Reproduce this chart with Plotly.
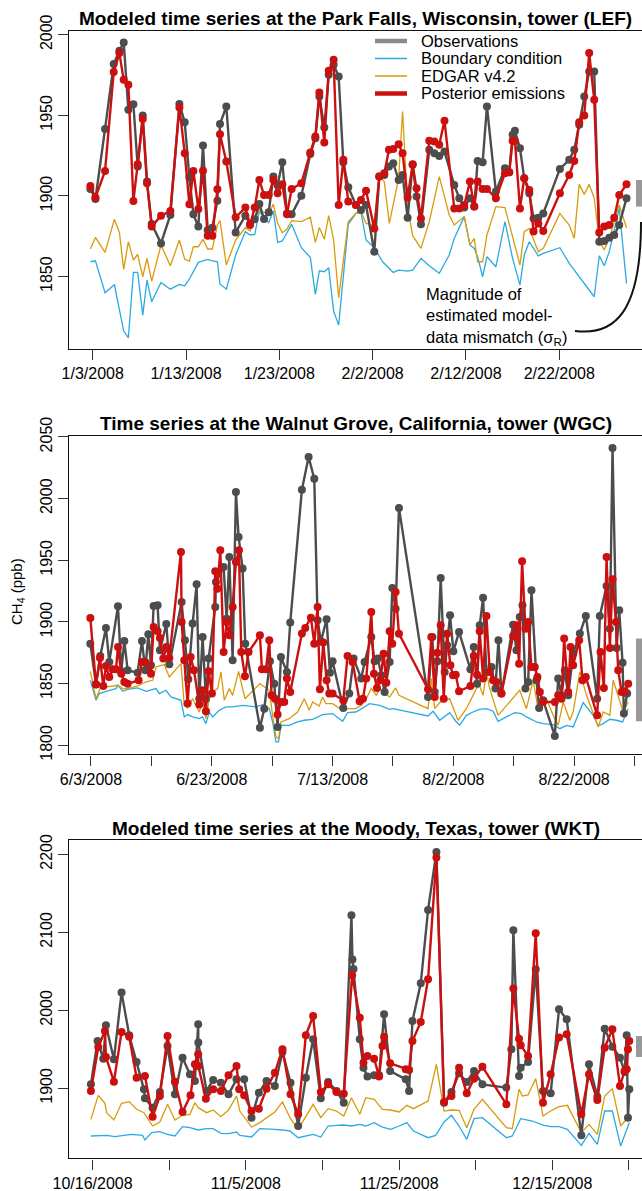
import pandas as pd
import plotly.graph_objects as go

W, H = 642, 1191

# ---------------- DATA (day offsets from the first labelled date, CH4 ppb) -------------
# Panel 1: LEF, days since 2008-01-03
lef_t = [-0.25,0.29,1.32,2.25,2.86,3.32,3.82,4.36,4.82,5.36,5.82,6.32,7.32,8.32,9.29,9.86,10.36,10.79,11.32,11.82,
         12.32,12.82,13.36,13.64,14.32,15.32,16.36,16.86,17.36,17.86,18.36,18.86,19.36,19.82,20.32,20.82,21.32,22.36,
         23.32,23.86,24.29,24.82,25.29,25.82,26.36,26.86,27.39,28.21,
         28.75,29.29,30.18,30.71,31.25,31.75,32.21,32.79,33.21,33.75,34.29,34.71,35.18,36.07,36.61,37.14,37.7,38.75,
         39.29,39.82,40.43,40.89,41.25,41.79,42.25,43.21,44.18,44.64,45.0,45.25,45.79,46.25,46.79,47.25,47.75,48.29,
         50.07,51.07,51.61,52.14,52.68,53.21,53.75,54.29,54.82,55.36,55.89,56.43,57.21]
lef_obs = [1904.3,1898.1,1941.6,1981.8,1990.0,1995.2,1953.4,1956.9,1918.2,1949.9,1908.9,1882.6,1870.6,1888.2,1957.1,
           1945.7,1911.6,1888.6,1881.0,1931.3,1878.9,1880.3,1897.1,1944.7,1955.5,1877.4,1887.8,1882.6,1885.5,1895.0,
           1885.7,1889.9,1912.0,1906.8,1920.9,1889.2,1888.6,1900.2,1926.1,1935.8,1961.7,1942.4,1975.1,1981.4,1974.1,
           1920.9,1905.4,1894.4,
           1891.3,1894.4,1865.4,1912.0,1913.0,1918.2,1920.3,1909.9,1913.0,1886.5,1919.3,1899.6,1882.4,1928.6,1926.5,
           1924.8,1927.5,1906.8,1898.6,1892.8,1898.6,1893.4,1921.7,1920.9,1955.5,1902.7,1917.2,1914.7,1937.9,1940.4,
           1929.6,1911.0,1901.7,1886.1,1886.5,1889.2,1916.8,1922.4,1928.6,1944.1,1961.7,1977.2,1977.2,1871.6,1872.1,
           1874.1,1875.8,1882.0,1898.6]
lef_post = [1906.2,1899.0,1915.5,1976.8,1988.6,1972.0,1968.9,1896.9,1919.7,1947.8,1907.9,1881.0,1887.8,1890.7,1954.9,
            1926.5,1894.8,1915.5,1891.9,1915.7,1875.4,1875.4,1904.1,1938.3,1921.3,1886.8,1892.8,1882.0,1892.8,1909.9,
            1900.6,1900.6,1909.9,1901.7,1907.2,1888.6,1904.3,1907.9,1926.9,1936.8,1964.2,1933.1,1977.6,1984.5,1894.4,
            1922.4,1896.5,1894.4,
            1897.5,1903.3,1879.9,1912.0,1914.1,1928.6,1929.2,1932.1,1926.5,1899.0,1919.7,1904.8,1886.1,1934.2,1933.7,
            1931.7,1946.6,1892.3,1892.3,1894.4,1908.9,1893.4,1908.9,1904.3,1904.3,1898.6,1914.1,1914.7,1934.2,1934.0,
            1892.3,1911.0,1903.7,1877.9,1883.0,1878.3,1901.7,1913.0,1921.7,1945.7,1949.9,1988.6,1959.6,1877.4,1881.0,
            1882.0,1886.5,1900.6,1907.2]
lef_bc_t = [-0.25,0.29,1.32,2.32,3.32,3.82,4.36,4.82,5.36,5.82,6.32,7.32,8.32,9.29,9.86,10.36,11.32,12.32,12.82,13.36,
            13.64,14.32,15.32,16.36,16.86,17.36,17.86,18.36,18.86,19.36,19.82,20.32,21.32,22.36,23.32,23.86,24.29,24.82,
            25.29,25.82,26.36,27.39,28.21,
            28.75,29.29,30.18,31.07,32.21,32.79,33.75,34.29,35.18,36.07,37.14,38.21,38.75,39.82,40.43,40.89,41.25,41.79,
            42.25,43.21,44.18,45.0,45.79,46.25,46.79,47.75,48.29,50.07,51.07,52.14,53.21,53.75,54.29,54.82,55.36,56.43,
            57.21]
lef_bc = [1859.2,1859.8,1840.0,1845.1,1816.2,1812.0,1852.6,1852.6,1826.1,1847.8,1834.4,1846.4,1842.2,1845.1,1844.3,
          1848.5,1858.8,1860.7,1859.8,1859.2,1845.4,1842.2,1863.4,1877.9,1875.8,1876.2,1890.3,1887.2,1883.6,1890.7,
          1871.2,1872.1,1882.4,1867.9,1861.9,1838.9,1853.6,1853.0,1855.5,1828.6,1819.9,1882.4,1889.2,
          1889.9,1872.7,1867.9,1859.2,1852.6,1854.0,1853.4,1854.0,1861.3,1856.7,1852.0,1863.4,1873.7,1887.2,1869.6,
          1867.5,1862.3,1849.9,1862.3,1856.1,1884.1,1861.3,1844.7,1863.4,1871.6,1862.9,1864.4,1867.9,1858.2,1849.9,
          1841.6,1837.5,1862.9,1856.7,1865.4,1892.3,1845.8]
lef_ed_t = [-0.25,0.29,1.32,2.32,2.86,3.32,3.82,4.36,4.82,5.36,5.82,6.32,7.32,8.32,9.29,9.86,10.36,10.79,11.32,11.82,
            12.32,12.82,13.36,13.64,14.32,15.32,16.36,16.86,17.36,17.86,18.36,18.86,19.36,19.82,20.32,20.82,21.32,22.36,
            23.32,23.86,24.29,24.82,25.29,25.82,26.36,27.39,28.21,
            28.75,29.29,30.18,30.71,31.25,31.79,32.79,33.21,33.75,34.29,35.18,36.07,37.14,38.21,38.75,39.82,40.43,40.89,
            41.25,41.79,42.25,43.21,44.18,45.0,45.79,46.25,46.79,47.75,48.29,50.07,51.07,51.61,52.14,52.68,53.21,53.75,
            54.29,54.82,55.36,56.43,57.21]
lef_ed = [1867.1,1874.3,1865.0,1885.5,1877.4,1854.5,1871.6,1860.3,1863.8,1849.9,1861.3,1847.2,1869.6,1856.7,1872.7,
          1860.7,1859.6,1868.5,1868.5,1873.1,1867.1,1867.1,1882.0,1884.7,1857.2,1872.7,1880.3,1878.3,1885.5,1891.3,
          1889.9,1888.2,1895.0,1883.0,1877.2,1879.5,1884.7,1884.1,1886.8,1871.2,1880.5,1873.1,1887.8,1872.7,1836.9,
          1884.1,1889.2,
          1890.3,1883.0,1882.0,1912.0,1908.9,1883.0,1911.0,1952.4,1893.4,1875.4,1867.5,1884.1,1912.0,1888.2,1882.0,
          1887.2,1869.6,1873.7,1859.2,1859.2,1875.8,1893.4,1892.8,1874.7,1857.2,1877.9,1879.9,1865.4,1867.5,1889.2,
          1882.0,1873.7,1907.2,1901.0,1907.2,1898.6,1872.7,1866.5,1873.7,1894.4,1880.3]

# Panel 2: WGC, days since 2008-06-03
wgc_obs_t = [-0.11,0.83,1.54,2.48,3.03,4.47,5.02,5.52,6.07,7.72,8.44,8.99,9.49,9.93,10.37,11.03,11.42,12.47,12.97,
             15.01,15.56,16.11,16.83,17.49,17.93,18.48,19.03,19.48,20.58,20.69,21.96,22.46,22.9,23.45,24.0,24.44,25.1,
             25.54,27.97,28.69,29.63,30.34,30.9,31.45,32.44,32.99,34.92,36.03,36.97,37.52,38.07,39.01,39.56,40.0,41.77,
             42.76,43.48,
             44.75,45.3,46.41,46.96,47.51,48.07,48.62,49.45,49.89,50.44,50.99,55.8,56.52,56.91,57.35,57.9,58.56,58.95,
             59.45,60.0,60.94,62.82,63.37,63.92,64.36,64.92,65.47,66.3,66.96,67.46,67.96,69.89,70.44,70.99,71.44,71.93,
             72.38,72.93,73.76,74.2,74.86,76.8,77.35,77.9,78.45,79.01,79.83,80.94,81.93,83.81,84.25,85.36,85.91,86.35,
             87.02,87.46,88.01,88.23,88.78]
wgc_obs = [1882.4,1849.2,1872.4,1895.1,1867.6,1912.7,1860.0,1884.6,1860.8,1858.9,1884.6,1860.8,1890.0,1864.9,1913.0,
           1913.5,1877.0,1898.4,1865.7,1916.2,1885.1,1853.5,1898.7,1930.6,1837.8,1887.8,1837.8,1870.3,1912.2,1932.4,
           1944.6,1902.7,1952.7,1868.9,2005.4,1968.9,1943.3,1882.4,1814.3,1829.7,1868.1,1850.0,1814.9,1871.6,1859.5,
           1899.5,2007.3,2033.8,2016.2,1901.4,1884.3,1902.2,1858.9,1868.1,1830.3,1841.9,1870.3,
           1854.1,1867.6,1887.8,1868.1,1870.3,1856.8,1843.2,1867.6,1927.6,1910.8,1992.5,1839.2,1887.8,1843.2,1868.1,
           1935.7,1859.5,1881.1,1905.4,1876.2,1891.9,1861.6,1879.7,1850.0,1897.3,1919.7,1859.5,1863.5,1846.0,1885.1,
           1841.9,1897.8,1877.0,1904.1,1913.5,1846.0,1851.4,1925.7,1852.7,1830.3,1836.5,1807.6,1854.1,1840.5,1860.8,
           1840.5,1874.3,1890.6,1904.9,1837.8,1904.9,1929.2,1894.6,2041.1,1878.9,1909.5,1867.0,1825.7,1841.9]
wgc_post_t = [-0.11,0.83,1.49,2.04,2.48,3.03,3.59,4.14,4.47,5.02,5.52,6.07,7.89,8.44,8.99,9.93,10.37,11.03,11.42,
              11.97,12.47,12.97,14.9,15.01,15.45,16.0,16.5,17.05,17.93,18.48,19.03,19.48,20.03,20.58,20.91,21.41,21.96,
              22.46,22.9,23.45,24.0,24.5,24.88,25.49,26.1,27.97,28.3,28.97,29.52,29.9,30.46,30.9,31.45,32.0,32.44,32.99,
              34.92,35.48,36.41,36.97,37.52,37.9,38.46,39.01,39.45,40.0,41.77,42.48,43.31,
              44.48,45.03,45.58,46.41,46.85,47.35,47.9,48.45,48.9,49.45,49.89,50.44,50.99,55.8,56.35,56.91,57.35,57.9,
              58.4,58.95,59.5,59.94,60.39,60.94,62.82,63.37,63.92,64.36,64.92,65.47,66.02,66.57,67.13,67.96,69.89,70.44,
              70.88,71.38,71.93,72.38,72.93,73.48,73.92,74.31,74.86,76.8,77.35,77.9,78.34,79.01,79.39,79.83,80.83,81.38,
              81.93,83.81,84.36,84.92,85.36,85.91,86.35,86.91,87.29,87.85,88.4,88.95]
wgc_post = [1903.3,1849.5,1870.8,1848.1,1864.3,1855.4,1861.6,1861.6,1879.7,1858.1,1851.4,1850.0,1852.7,1867.6,1867.6,
            1858.1,1896.0,1892.4,1887.0,1870.3,1879.7,1870.8,1956.8,1900.0,1868.9,1833.8,1871.6,1860.8,1833.0,1844.6,
            1827.6,1860.0,1841.9,1941.1,1927.0,1958.1,1875.7,1900.0,1889.2,1912.2,1948.7,1958.1,1875.7,1856.0,1875.7,
            1889.2,1861.6,1861.6,1885.1,1840.5,1837.8,1824.9,1835.1,1835.1,1854.1,1843.2,1890.6,1895.1,1903.5,1882.4,
            1912.2,1845.4,1883.3,1852.7,1841.9,1841.9,1836.5,1872.4,1867.6,
            1835.7,1837.8,1854.1,1908.1,1858.1,1846.5,1852.7,1874.3,1850.8,1892.4,1882.4,1924.3,1890.5,1845.4,1887.8,
            1839.2,1875.1,1897.3,1837.8,1890.5,1864.9,1856.8,1857.3,1843.8,1848.1,1872.4,1857.3,1892.4,1854.1,1904.9,
            1859.5,1852.7,1851.4,1841.9,1888.7,1897.3,1866.2,1949.2,1894.6,1900.0,1863.5,1863.5,1855.4,1843.2,1835.1,
            1835.1,1840.5,1837.8,1886.5,1843.2,1879.7,1864.9,1885.1,1852.7,1855.4,1824.3,1875.7,1846.5,1952.7,1878.9,
            1934.6,1900.0,1860.8,1843.2,1843.8,1850.0]
wgc_bc_t = [-0.11,0.83,1.38,2.48,4.14,4.47,5.24,6.07,7.72,9.1,10.76,11.31,12.41,13.24,14.9,15.45,16.0,16.83,17.93,
            18.48,19.03,19.59,20.14,21.24,22.34,23.45,25.1,27.31,28.41,29.52,30.07,30.62,31.06,31.45,32.83,34.21,35.31,
            36.69,38.34,40.0,41.66,42.48,43.86,
            44.75,46.13,47.79,49.45,50.0,55.8,56.63,57.73,59.39,60.5,61.05,62.15,63.26,64.36,65.47,66.57,67.4,70.17,
            71.27,72.1,73.76,74.86,76.52,77.62,78.73,79.83,81.49,83.15,83.98,84.81,85.91,87.02,88.01,88.95]
wgc_bc = [1852.7,1836.5,1841.9,1843.8,1846.0,1848.7,1843.8,1845.4,1846.5,1843.8,1846.0,1841.9,1844.6,1839.2,1836.5,
          1823.0,1824.9,1823.0,1821.6,1823.0,1817.6,1827.0,1823.0,1828.4,1831.1,1831.1,1832.4,1831.1,1833.0,1829.7,
          1818.9,1802.7,1802.7,1816.2,1816.2,1818.9,1820.3,1821.1,1824.9,1825.7,1819.5,1826.5,1827.0,
          1829.7,1833.8,1832.4,1829.2,1829.7,1823.8,1827.6,1820.3,1826.5,1818.9,1816.2,1824.3,1827.0,1829.2,1829.7,
          1827.6,1819.5,1826.5,1825.7,1823.0,1818.9,1817.6,1816.8,1813.5,1816.2,1814.9,1834.6,1824.3,1815.7,1817.6,
          1821.1,1820.3,1818.9,1829.7]
wgc_ed_t = [-0.11,0.83,1.54,2.48,4.47,5.24,6.07,7.72,9.1,10.21,10.76,12.14,12.97,14.9,15.45,16.0,16.83,17.93,18.48,
            19.03,19.59,20.14,20.97,21.52,22.07,22.9,23.45,24.44,25.49,27.97,29.52,30.07,30.62,31.06,31.45,32.83,34.21,
            35.31,36.14,36.69,37.79,38.34,38.9,40.0,41.66,42.48,43.86,
            44.75,45.58,46.41,47.24,47.79,48.62,49.45,50.44,50.99,55.8,56.35,56.91,57.73,59.39,60.77,62.15,63.26,63.81,
            64.36,64.92,65.47,66.02,67.4,69.89,70.99,72.1,73.2,74.03,75.41,76.52,77.35,78.18,79.28,79.83,80.94,82.04,
            83.98,84.81,85.91,86.46,87.29,88.12,88.95]
wgc_ed = [1860.0,1837.8,1846.5,1847.3,1848.7,1846.0,1846.0,1848.1,1851.4,1852.7,1863.5,1865.4,1855.4,1866.2,1832.4,
          1830.3,1837.8,1827.0,1835.1,1821.6,1837.8,1843.2,1846.0,1859.5,1836.5,1846.0,1840.5,1860.0,1837.8,1850.0,
          1844.6,1824.3,1806.8,1805.4,1818.9,1821.6,1827.0,1837.8,1828.4,1835.1,1831.9,1839.2,1833.8,1833.8,1828.4,
          1829.7,1829.7,
          1832.4,1837.8,1846.0,1840.5,1846.0,1841.9,1839.2,1846.5,1840.5,1829.7,1854.1,1829.7,1834.6,1837.8,1820.3,
          1829.7,1840.5,1846.0,1848.1,1840.5,1859.5,1846.0,1824.3,1837.8,1844.6,1829.7,1852.7,1829.7,1837.8,1824.3,
          1816.2,1835.1,1820.3,1827.0,1859.5,1840.5,1814.9,1827.0,1824.3,1852.7,1840.5,1827.0,1835.1]

# Panel 3: WKT, days since 2008-10-16
wkt_obs_t = [-0.22,0.65,1.39,1.74,2.78,3.78,4.78,5.74,6.7,6.83,7.83,8.78,9.78,10.74,11.74,12.7,13.35,13.78,13.8,14.87,
             15.74,16.74,17.74,18.78,19.78,20.74,21.7,22.7,23.78,24.78,25.83,26.83,27.83,28.78,29.78,30.74,31.83,32.78,
             33.78,
             33.91,34.05,34.87,35.35,35.87,36.74,37.39,38.04,38.83,40.87,41.3,41.74,42.83,43.78,44.87,45.87,46.83,47.83,
             48.83,49.78,50.87,54.0,54.65,54.91,55.65,55.87,56.83,57.83,58.78,59.78,60.87,61.87,63.78,64.78,65.87,66.83,
             67.83,68.83,69.43,69.7,69.87,70.04]
wkt_obs = [1905.1,1960.7,1938.0,1980.8,1937.2,2022.7,1968.0,1933.8,1898.7,1887.2,1875.2,1895.3,1954.3,1892.3,1939.3,
           1918.0,1909.4,1982.1,1958.6,1896.6,1910.7,1907.3,1892.3,1911.5,1911.5,1862.4,1894.4,1909.4,1903.0,1946.6,
           1907.3,1851.7,1913.7,1962.8,1887.2,1908.1,1896.6,1881.6,2121.8,
           2065.0,2053.0,1962.8,1926.5,1915.0,1916.7,1916.7,1994.9,1922.2,1911.5,1896.6,1986.3,2034.6,2128.7,2203.0,
           1881.6,1895.3,1919.2,1908.1,1922.2,1905.1,1900.9,1950.0,2102.6,1915.8,1926.5,1933.8,2052.6,1896.6,1893.6,
           2001.3,1988.5,1839.7,1930.8,1889.3,1976.5,1953.4,1939.3,1920.9,1968.0,1862.4,1898.7]
wkt_post_t = [-0.22,0.74,1.61,1.74,2.78,3.78,4.78,5.74,6.83,7.83,8.78,9.78,10.74,11.74,12.78,13.35,13.78,13.8,14.78,
              15.74,16.74,17.74,18.78,19.13,19.78,20.74,21.7,22.7,23.78,24.78,25.83,26.83,27.83,28.78,29.78,30.74,31.83,
              32.78,33.87,
              34.87,35.35,35.87,36.74,37.39,37.83,38.04,38.83,40.87,41.3,41.74,42.83,43.78,44.87,45.87,46.83,47.83,48.83,
              49.78,50.87,54.0,54.91,55.65,55.87,56.83,57.83,58.78,59.78,60.87,61.87,63.78,64.78,65.87,66.83,67.83,68.83,
              69.43,69.7,69.87,70.04]
wkt_post = [1896.6,1953.0,1973.5,1940.2,1908.5,1972.2,1966.2,1913.7,1915.8,1863.7,1890.2,1967.1,1908.5,1869.7,1891.0,
            1930.8,1943.6,1928.6,1886.7,1898.7,1896.6,1916.7,1928.6,1898.7,1891.0,1870.9,1873.9,1899.6,1920.1,1950.0,
            1892.3,1866.7,1968.0,1992.7,1895.3,1905.1,1895.3,1893.2,2044.9,
            1990.6,1932.9,1941.5,1938.0,1915.0,1954.3,1966.2,1932.1,1924.4,1923.5,1960.7,1985.0,2039.8,2195.8,1882.5,
            1890.2,1926.5,1893.6,1912.4,1927.8,1879.5,2027.8,1963.7,1955.1,1941.5,2098.7,1881.6,1918.0,1965.0,1969.2,
            1866.7,1918.0,1885.0,1952.1,1975.6,1903.0,1922.2,1924.4,1950.0,1960.7]
wkt_bc_t = [-0.22,1.83,2.91,4.0,5.09,6.52,6.83,7.7,8.78,9.78,10.74,11.74,12.7,13.78,14.87,15.74,16.74,17.74,18.78,19.22,
            20.74,21.83,22.7,23.78,24.78,25.74,26.83,27.83,28.78,29.78,30.74,31.83,32.78,33.78,
            34.87,35.65,36.74,37.83,38.91,40.0,41.0,41.87,43.78,44.78,45.87,46.83,47.83,48.83,49.78,50.87,54.0,54.78,
            55.87,57.39,58.91,59.78,60.87,61.96,63.78,64.78,65.87,66.83,67.83,68.91,70.04]
wkt_bc = [1838.9,1839.7,1838.0,1839.7,1841.0,1839.7,1833.8,1843.2,1844.4,1841.0,1838.9,1850.9,1849.6,1846.6,1848.3,
          1848.3,1842.3,1841.9,1844.0,1839.7,1837.6,1848.3,1848.3,1847.4,1846.6,1845.3,1836.7,1838.9,1841.0,1837.6,
          1851.7,1852.6,1853.0,1851.7,
          1853.8,1851.7,1856.0,1850.4,1847.4,1851.7,1856.0,1845.3,1836.7,1839.7,1856.8,1865.4,1851.7,1834.6,1861.1,
          1862.4,1836.7,1838.9,1861.1,1858.1,1852.6,1850.9,1850.9,1847.4,1826.9,1842.3,1828.2,1870.9,1870.9,1826.1,
          1856.0]
wkt_ed_t = [-0.22,0.74,1.61,1.83,2.78,3.78,4.78,5.74,6.7,7.83,8.78,9.78,10.74,11.74,12.7,13.35,13.78,14.87,15.74,16.74,
            17.74,18.78,19.22,20.74,21.83,22.7,23.78,24.78,25.83,26.83,27.83,28.78,29.78,30.74,31.83,32.78,33.78,
            34.87,35.65,36.74,37.83,38.91,40.0,41.0,41.87,43.78,44.87,45.87,46.83,47.83,48.83,49.78,50.87,54.0,54.78,
            55.65,56.09,56.83,57.83,58.78,59.78,60.87,61.96,63.78,64.78,65.87,66.83,67.83,68.91,70.04]
wkt_ed = [1860.3,1891.0,1880.8,1868.8,1859.4,1880.8,1882.9,1873.1,1868.8,1851.7,1856.8,1879.5,1859.4,1865.4,1866.7,
          1881.6,1875.2,1868.8,1872.2,1863.7,1872.2,1890.2,1870.9,1850.4,1856.0,1862.4,1869.7,1882.5,1861.1,1847.4,
          1864.5,1879.5,1862.4,1873.9,1870.9,1864.5,1888.0,
          1866.7,1888.0,1885.9,1873.1,1872.2,1869.7,1878.2,1873.9,1883.8,1930.8,1870.9,1872.2,1871.8,1849.6,1873.1,
          1885.9,1849.6,1848.3,1898.7,1890.2,1891.5,1912.4,1864.5,1870.9,1876.5,1878.2,1843.2,1853.8,1841.0,1890.2,
          1899.6,1851.7,1864.5]

# model-data mismatch bars (ppb, low/high)
sigma_bars = [(1893.4, 1909.9), (1819.5, 1886.5), (1940.0, 1967.0)]

titles = ["Modeled time series at the Park Falls, Wisconsin, tower (LEF)",
          "Time series at the Walnut Grove, California, tower (WGC)",
          "Modeled time series at the Moody, Texas, tower (WKT)"]
legend_names = ["Observations", "Boundary condition", "EDGAR v4.2", "Posterior emissions"]

# ---------------- STYLE / LAYOUT ------------------------------------------------------
C_OBS, C_OBS_LEG = "#4d4d4d", "#8a8a8a"
C_BC, C_ED, C_POST = "#2aaae2", "#d99b0a", "#cc1010"
FONT = "Liberation Sans, Arial, Helvetica, sans-serif"
TFONT = "Liberation Sans, Arial, Helvetica, sans-serif"

def px(x):
    return x / W

def py(y):
    return 1 - y / H

X0 = 69.3
panels = [
    dict(base="2008-01-03", xr=(-2.51, 58.87), yr=(1805.1, 2002.3), top=31, bot=349,
         yt=[1850, 1900, 1950, 2000], lab_every=10, tcy=19,
         data=(lef_t, lef_obs, lef_t, lef_post, lef_bc_t, lef_bc, lef_ed_t, lef_ed)),
    dict(base="2008-06-03", xr=(-3.59, 91.23), yr=(1792.7, 2050.8), top=436, bot=754.3,
         yt=[1800, 1850, 1900, 1950, 2000, 2050], lab_every=20, tcy=424,
         data=(wgc_obs_t, wgc_obs, wgc_post_t, wgc_post, wgc_bc_t, wgc_bc, wgc_ed_t, wgc_ed)),
    dict(base="2008-10-16", xr=(-3.04, 71.7), yr=(1810.3, 2218.3), top=840, bot=1158.3,
         yt=[1900, 2000, 2100, 2200], lab_every=20, tcy=828,
         data=(wkt_obs_t, wkt_obs, wkt_post_t, wkt_post, wkt_bc_t, wkt_bc, wkt_ed_t, wkt_ed)),
]

def to_dt(base, days):
    b = pd.Timestamp(base)
    return [b + pd.Timedelta(days=float(d)) for d in days]

fig = go.Figure()
layout = dict(width=W, height=H, margin=dict(l=0, r=0, t=0, b=0, pad=0, autoexpand=False),
              paper_bgcolor="white", plot_bgcolor="white", showlegend=False,
              font=dict(family=FONT, size=16, color="black"))
shapes, annos = [], []
DAY_MS = 86400000

for i, p in enumerate(panels):
    n = "" if i == 0 else str(i + 1)
    xa, ya = "x" + n, "y" + n
    ot, ov, pt, pv, bt, bv, et, ev = p["data"]
    fig.add_trace(go.Scatter(x=to_dt(p["base"], bt), y=bv, mode="lines",
                             line=dict(color=C_BC, width=1.3), xaxis=xa, yaxis=ya))
    fig.add_trace(go.Scatter(x=to_dt(p["base"], et), y=ev, mode="lines",
                             line=dict(color=C_ED, width=1.3), xaxis=xa, yaxis=ya))
    fig.add_trace(go.Scatter(x=to_dt(p["base"], ot), y=ov, mode="lines+markers",
                             line=dict(color=C_OBS, width=2.4), marker=dict(color=C_OBS, size=8),
                             xaxis=xa, yaxis=ya))
    fig.add_trace(go.Scatter(x=to_dt(p["base"], pt), y=pv, mode="lines+markers",
                             line=dict(color=C_POST, width=2.4), marker=dict(color=C_POST, size=8),
                             xaxis=xa, yaxis=ya))
    b = pd.Timestamp(p["base"])
    lab_days = list(range(0, int(p["xr"][1]) + 1, p["lab_every"]))
    tv = [b + pd.Timedelta(days=d) for d in lab_days]
    tt = [f"{t.month}/{t.day}/{t.year}" for t in tv]
    ydom = [py(p["bot"]), py(p["top"])]
    layout["xaxis" + n] = dict(domain=[px(X0), 1], anchor=ya, type="date", automargin=False,
                               range=[b + pd.Timedelta(days=p["xr"][0]), b + pd.Timedelta(days=p["xr"][1])],
                               tickvals=tv, ticktext=tt, ticks="outside", ticklen=10, tickwidth=1.2,
                               tickcolor="#333333", showline=True, linecolor="#111111", linewidth=1.4,
                               mirror=True, showgrid=False, zeroline=False,
                               minor=dict(ticks="outside", ticklen=10, tickwidth=1.2, tickcolor="#333333",
                                          tick0=b.strftime("%Y-%m-%d"), dtick=10 * DAY_MS, showgrid=False),
                               tickfont=dict(family=FONT, size=16, color="black"))
    layout["yaxis" + n] = dict(domain=ydom, anchor=xa, range=list(p["yr"]), tickvals=p["yt"],
                               automargin=False,
                               ticks="outside", ticklen=10, tickwidth=1.2, tickcolor="#333333",
                               showline=True, linecolor="#111111", linewidth=1.4, showgrid=False,
                               zeroline=False, tickangle=-90,
                               tickfont=dict(family=FONT, size=16, color="black"))
    annos.append(dict(text="<b>" + titles[i] + "</b>", x=(px(X0) + 1) / 2, y=py(p["tcy"]),
                      xref="paper", yref="paper", xanchor="center", yanchor="middle", showarrow=False,
                      font=dict(family=TFONT, size=19, color="black")))
    lo, hi = sigma_bars[i]
    shapes.append(dict(type="rect", xref="paper", yref=ya, x0=px(636), x1=1.0, y0=lo, y1=hi,
                       fillcolor="#999999", line=dict(width=0)))

# legend (panel 1)
leg_cols = [(C_OBS_LEG, 4.5), (C_BC, 1.5), (C_ED, 1.5), (C_POST, 4.5)]
leg_y = [41, 58.5, 76, 93.5]
for (c, w), yy, name in zip(leg_cols, leg_y, legend_names):
    shapes.append(dict(type="line", xref="paper", yref="paper", x0=px(375), x1=px(407), y0=py(yy), y1=py(yy),
                       line=dict(color=c, width=w)))
    annos.append(dict(text=name, x=px(419), y=py(yy), xref="paper", yref="paper", xanchor="left",
                      yanchor="middle", showarrow=False, font=dict(family=FONT, size=16.5, color="black")))

annos.append(dict(text="Magnitude of<br>estimated model-<br>data mismatch (σ<sub>R</sub>)", x=px(424), y=py(317),
                  xref="paper", yref="paper", xanchor="left", yanchor="middle", align="left", showarrow=False,
                  font=dict(family=FONT, size=16.5, color="black")))
path = (f"M {px(575)},{py(331)} C {px(615)},{py(336)} {px(641)},{py(312)} {px(641)},{py(222)}")
shapes.append(dict(type="path", xref="paper", yref="paper", path=path, line=dict(color="#111111", width=2)))

annos.append(dict(text="CH<sub>4</sub> (ppb)", x=px(18), y=py(592), xref="paper", yref="paper",
                  xanchor="center", yanchor="middle", textangle=-90, showarrow=False,
                  font=dict(family=FONT, size=15, color="black")))

layout["shapes"] = shapes
layout["annotations"] = annos
fig.update_layout(**layout)
fig.write_html("out.html")
